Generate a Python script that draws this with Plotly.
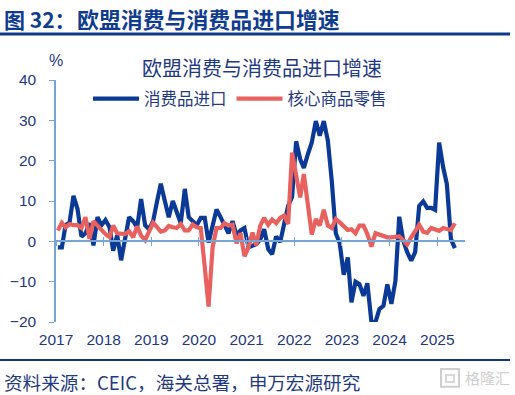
import pandas as pd
import plotly.graph_objects as go

W, H = 515, 395
L, R, T, B = 56, 465, 79.5, 322

imports = [-1.5,-1.5,4,4.7,11.3,8,1.2,2,4.5,-1,6,4,
           5.3,3.5,-2.3,1.5,-4.7,1,6,5,3.5,10.5,4,3,
           5,10,14.3,10,6,10,7,4.5,13,6,5,4,
           5.8,5.8,-0.3,3.5,7.9,6,4,2,5,1.5,2.7,3.3,
           -1.5,-1,-0.7,0.5,3,-1.9,-3.2,1.2,-0.2,4.3,8.8,11,
           24.8,20.4,18.2,21.6,24.5,29.8,26.2,29.8,25,15,2,-0.5,
           -8.3,-4,-15.1,-10,-10.6,-13.5,-10.4,-20,-20,-16.8,-16,-10.7,
           -15.5,-9.8,6.1,0.2,-2.7,-4.8,-2.7,8.8,9.9,8.3,8.3,7.8,
           24.5,18.3,14.2,0.6,-1.7]
retail = [2.7,4.6,3.5,4.3,4,4,3.3,6,0.6,5,3.9,2.8,
          1.8,1,3.9,2,1.8,1.8,2.5,1,3.7,1.4,0.3,2.7,
          4.6,3.5,2.4,2.7,3.8,3.5,3.3,4.3,2.7,2.7,4.2,3.5,
          3.3,-6.4,-16.2,-1.5,3.3,3.3,4.5,3.9,4.1,-0.5,2,-3.7,
          -1.5,2.2,-1,3.9,5.8,4.1,5.4,4.5,5.8,6.4,4.3,22,
          16.7,10.9,16.7,8.4,1.7,5.5,3.9,7.8,3.9,3.3,5.5,4.7,
          3.9,2.8,3,2,3.9,3.9,1.8,-1.3,2,1.6,1.3,1,
          1,1,1.2,0.3,-0.8,1,2.6,4.1,2.4,2.1,3.3,3,
          2.6,3.3,3,2.8,4.5]
months = pd.date_range("2017-01-01", periods=len(imports), freq="MS") + pd.Timedelta(days=14)
name_imports = "消费品进口"
name_retail = "核心商品零售"
chart_title = "欧盟消费与消费品进口增速"
header_no = "图 32："
header = "欧盟消费与消费品进口增速"
source = "资料来源：CEIC，海关总署，申万宏源研究"
watermark = "格隆汇"
y_ticks = [-20, -10, 0, 10, 20, 30, 40]

NAVY = "#0b3a96"
RED = "#e8615f"
TXT = "#1f3a80"
AX = "#76a5d3"
RULE = "#0c3a86"
FONT = "Noto Sans CJK SC, sans-serif"
NUM = "Liberation Sans, Noto Sans CJK SC, sans-serif"
x_range = ["2017-01-01", "2025-08-01"]

fig = go.Figure()
fig.add_trace(go.Scatter(x=months, y=imports, mode="lines", name=name_imports,
                         line=dict(color=NAVY, width=4.2, shape="linear")))
fig.add_trace(go.Scatter(x=months, y=retail, mode="lines", name=name_retail,
                         line=dict(color=RED, width=4.2, shape="linear")))
for ax in ("x2", "x3"):
    fig.add_trace(go.Scatter(x=[months[0]], y=[None], xaxis=ax, showlegend=False, hoverinfo="skip"))

def px(x):
    return (x - L) / (R - L)
def py(y):
    return (B - y) / (B - T)

common = dict(type="date", range=x_range, dtick="M12", tick0="2017-01-01",
              showgrid=False, zeroline=False)
fig.update_layout(
    width=W, height=H, autosize=False,
    paper_bgcolor="white", plot_bgcolor="white",
    margin=dict(l=L, r=W - R, t=T, b=H - B, pad=0, autoexpand=False),
    showlegend=True,
    legend=dict(orientation="h", x=px(88), y=py(81), xanchor="left", yanchor="top",
                font=dict(family=FONT, size=16.5, color=TXT),
                itemwidth=46, bgcolor="rgba(0,0,0,0)", traceorder="normal",
                tracegroupgap=0),
    xaxis=dict(**common, anchor="free", position=1/3, showline=True, linecolor=AX, linewidth=1.5,
               ticks="inside", ticklen=4, tickwidth=1.2, tickcolor=AX, showticklabels=False),
    xaxis2=dict(**common, overlaying="x", anchor="free", position=1/3, side="bottom", showline=False,
                ticks="outside", ticklen=4, tickwidth=1.2, tickcolor=AX, showticklabels=False),
    xaxis3=dict(**common, overlaying="x", anchor="free", position=0, side="bottom", showline=False,
                ticks="", showticklabels=True, tickformat="%Y", ticklabelmode="instant",
                ticklabelstandoff=6, tickfont=dict(family=NUM, size=15.5, color=TXT)),
    yaxis=dict(range=[-20, 40], tickvals=y_ticks, showgrid=False, zeroline=False,
               showline=True, linecolor=AX, linewidth=1.5,
               ticks="outside", ticklen=5, tickwidth=1.2, tickcolor=AX, ticklabelstandoff=10,
               tickfont=dict(family=NUM, size=15.5, color=TXT)),
)

def note(text, x, y, size, color=TXT, family=FONT, anchor="left"):
    fig.add_annotation(text=text, xref="paper", yref="paper", x=px(x), y=py(y), showarrow=False,
                       xanchor=anchor, yanchor="middle", align="left",
                       font=dict(family=family, size=size, color=color))

note(f"<b>{header_no}</b>", 2, 18, 21, color="#0f3c8f")
note(f"<b>{header}</b>", 75, 18, 21.9, color="#0f3c8f")
note(chart_title, 261.5, 67, 20, anchor="center")
note("%", 56, 60, 16, family=NUM, anchor="center")
note(source, 2, 381.5, 18.6)
note(watermark, 463, 378, 15, color="#cfcfcf")

def rule(x0, x1, y0, y1, **kw):
    fig.add_shape(type="rect", xref="paper", yref="paper", layer="above",
                  x0=px(x0), x1=px(x1), y0=py(y0), y1=py(y1), **kw)
rule(0, 510, 32, 35, fillcolor=RULE, line_width=0)
rule(0, 510, 359, 361, fillcolor=RULE, line_width=0)
rule(441, 459, 369, 387, fillcolor="rgba(0,0,0,0)", line=dict(color="#cfcfcf", width=2))
rule(446, 454, 375, 382, fillcolor="rgba(0,0,0,0)", line=dict(color="#d8d8d8", width=2))

fig.write_html("out.html", config=dict(displayModeBar=False),
               post_script="document.body.style.margin='0';document.documentElement.style.overflow='hidden';")
